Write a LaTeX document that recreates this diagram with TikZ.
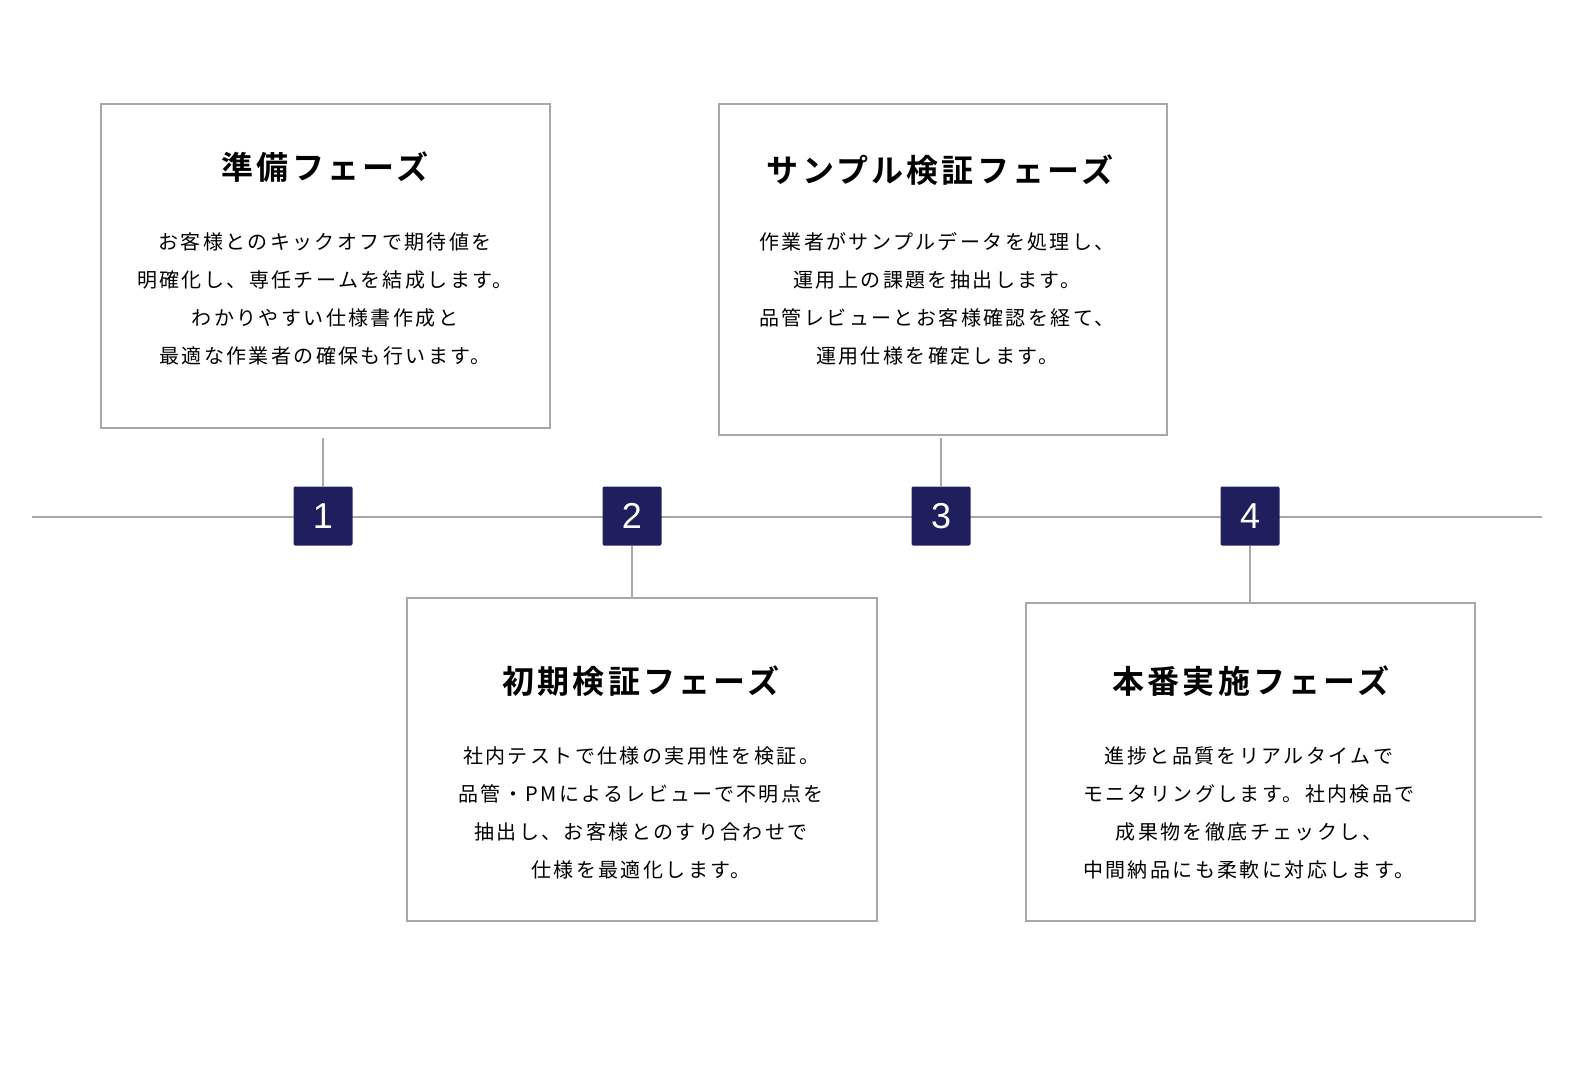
\documentclass[tikz,border=0pt]{standalone}
\usepackage{fontspec}
\newfontfamily\jpbody[LetterSpace=12]{Noto Sans CJK JP}
\newfontfamily\jptitle[LetterSpace=10]{Noto Sans CJK JP Bold}
\setsansfont{Liberation Sans}
\definecolor{navy}{HTML}{1F1F5E}
\definecolor{gline}{HTML}{A8A8A8}
\begin{document}
\begin{tikzpicture}[x=0.75pt,y=-0.75pt,
  card/.style={draw=gline,line width=1.2pt,fill=white},
  ttl/.style={font=\jptitle\fontsize{24}{28}\selectfont,anchor=center},
  body/.style={font=\jpbody\fontsize{15}{28.5}\selectfont,align=center,anchor=north},
  num/.style={fill=navy,minimum size=44.25pt,inner sep=0pt,rounded corners=1pt,text=white,font=\sffamily\fontsize{27}{30}\selectfont},
  conn/.style={draw=gline,line width=1.5pt}]
\useasboundingbox (0,0) rectangle (1577,1080);
\coordinate (L) at (32,517); \coordinate (R) at (1542,517);
\draw[conn] (L) -- (R);
\node[card,minimum width=336.75pt,minimum height=243pt,anchor=north west] (b1) at (100,103) {};
\node[card,minimum width=352.5pt,minimum height=242.25pt,anchor=north west] (b2) at (406,597) {};
\node[card,minimum width=336pt,minimum height=248.25pt,anchor=north west] (b3) at (718,103) {};
\node[card,minimum width=336.75pt,minimum height=238.5pt,anchor=north west] (b4) at (1025,602) {};
\node[num] (n1) at (323,516) {1};
\node[num] (n2) at (632,516) {2};
\node[num] (n3) at (941,516) {3};
\node[num] (n4) at (1250,516) {4};
\draw[conn] (b1.south -| n1) ++(0,9) coordinate (c1) -- (n1.north);
\draw[conn] (n2.south) -- (n2.south |- b2.north);
\draw[conn] (b3.south -| n3) ++(0,2) coordinate (c3) -- (n3.north);
\draw[conn] (n4.south) -- (n4.south |- b4.north);
\node[ttl] (t1) at (325,167) {準備フェーズ};
\node[body] (x1) at (325,228) {お客様とのキックオフで期待値を\\明確化し、専任チームを結成します。\\わかりやすい仕様書作成と\\最適な作業者の確保も行います。};
\node[ttl] (t2) at (641,681) {初期検証フェーズ};
\node[body] (x2) at (641,742) {社内テストで仕様の実用性を検証。\\品管・PMによるレビューで不明点を\\抽出し、お客様とのすり合わせで\\仕様を最適化します。};
\node[ttl] (t3) at (940,170) {サンプル検証フェーズ};
\node[body] (x3) at (937,228) {作業者がサンプルデータを処理し、\\運用上の課題を抽出します。\\品管レビューとお客様確認を経て、\\運用仕様を確定します。};
\node[ttl] (t4) at (1251,681) {本番実施フェーズ};
\node[body] (x4) at (1249,742) {進捗と品質をリアルタイムで\\モニタリングします。社内検品で\\成果物を徹底チェックし、\\中間納品にも柔軟に対応します。};
\end{tikzpicture}
\end{document}
